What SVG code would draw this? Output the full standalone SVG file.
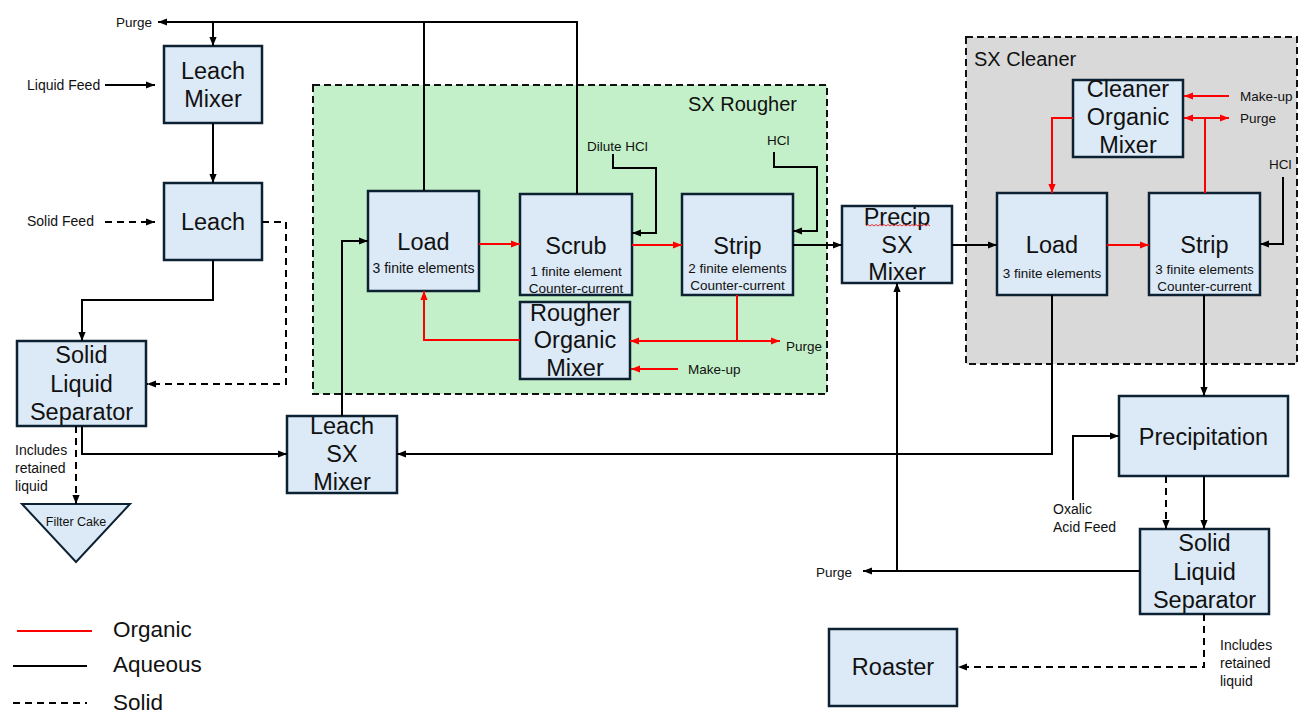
<svg xmlns="http://www.w3.org/2000/svg" width="1302" height="718" viewBox="0 0 1302 718">
<defs>
<marker id="ab" viewBox="0 0 10 8" refX="10" refY="4" markerWidth="9" markerHeight="7.5" markerUnits="userSpaceOnUse" orient="auto"><path d="M0,0 L10,4 L0,8 z" fill="#000"/></marker>
<marker id="ar" viewBox="0 0 10 8" refX="10" refY="4" markerWidth="9" markerHeight="7.5" markerUnits="userSpaceOnUse" orient="auto"><path d="M0,0 L10,4 L0,8 z" fill="#f00"/></marker>
</defs>
<style>
.box{fill:#dce9f6;stroke:#0c2233;stroke-width:2.5}
.t{font-family:"Liberation Sans",Arial,sans-serif;fill:#111;text-anchor:middle}
.big{font-size:23.5px}
.sm{font-size:13.5px}
.lbl{font-family:"Liberation Sans",Arial,sans-serif;font-size:13.5px;fill:#111}
.lbl2{font-family:"Liberation Sans",Arial,sans-serif;font-size:14px;fill:#111}
.aq{fill:none;stroke:#000;stroke-width:2}
.org{fill:none;stroke:#f00;stroke-width:2}
.sol{fill:none;stroke:#000;stroke-width:2;stroke-dasharray:7 5}
.grp{stroke:#111;stroke-width:2;stroke-dasharray:7 4}
.head{font-family:"Liberation Sans",Arial,sans-serif;font-size:20px;fill:#111}
</style>
<rect width="1302" height="718" fill="#fff"/>

<g id="sx-rougher">
<rect class="grp" x="313" y="85" width="514" height="309" fill="#c3f0c8"/>
<text class="head" x="688" y="111">SX Rougher</text>
</g>
<g id="sx-cleaner">
<rect class="grp" x="966" y="37" width="331" height="327" fill="#d9d9d9"/>
<text class="head" x="974" y="66">SX Cleaner</text>
</g>

<g id="leach-mixer"><rect class="box" x="164" y="46" width="98" height="77"/><text class="t big" x="213" y="79">Leach</text><text class="t big" x="213" y="107">Mixer</text></g>
<g id="leach"><rect class="box" x="164" y="183" width="98" height="77"/><text class="t big" x="213" y="230">Leach</text></g>
<g id="sls1"><rect class="box" x="17" y="341" width="129" height="85"/><text class="t big" x="81.5" y="363">Solid</text><text class="t big" x="81.5" y="392">Liquid</text><text class="t big" x="81.5" y="420">Separator</text></g>
<g id="filter-cake"><polygon points="22,504 130,504 76,562" fill="#dce9f6" stroke="#0c2233" stroke-width="2"/><text class="t" style="font-size:12.5px" x="76" y="526">Filter Cake</text></g>
<g id="leach-sx-mixer"><rect class="box" x="287" y="416" width="110" height="77"/><text class="t big" x="342" y="434">Leach</text><text class="t big" x="342" y="462">SX</text><text class="t big" x="342" y="490">Mixer</text></g>

<g id="r-load"><rect class="box" x="368" y="191" width="111" height="100"/><text class="t big" x="423.5" y="250">Load</text><text class="t" style="font-size:14px" x="423.5" y="273">3 finite elements</text></g>
<g id="r-scrub"><rect class="box" x="520" y="194" width="112" height="101"/><text class="t big" x="576" y="254">Scrub</text><text class="t sm" x="576" y="276">1 finite element</text><text class="t sm" x="576" y="293">Counter-current</text></g>
<g id="r-strip"><rect class="box" x="682" y="194" width="111" height="101"/><text class="t big" x="737.5" y="254">Strip</text><text class="t sm" x="737.5" y="273">2 finite elements</text><text class="t sm" x="737.5" y="290">Counter-current</text></g>
<g id="r-org-mixer"><rect class="box" x="520" y="302" width="110" height="77"/><text class="t big" x="575" y="321">Rougher</text><text class="t big" x="575" y="348">Organic</text><text class="t big" x="575" y="376">Mixer</text></g>

<g id="precip-sx-mixer"><rect class="box" x="842" y="206" width="110" height="77"/><text class="t big" x="897" y="225">Precip</text><path d="M866,226 l2,-1.5 l2,1.5 l2,-1.5 l2,1.5 l2,-1.5 l2,1.5 l2,-1.5 l2,1.5 l2,-1.5 l2,1.5 l2,-1.5 l2,1.5 l2,-1.5 l2,1.5 l2,-1.5 l2,1.5 l2,-1.5 l2,1.5 l2,-1.5 l2,1.5 l2,-1.5 l2,1.5 l2,-1.5 l2,1.5 l2,-1.5 l2,1.5 l2,-1.5 l2,1.5 l2,-1.5 l2,1.5 l2,-1.5 l2,1.5" fill="none" stroke="#e03030" stroke-width="1"/><text class="t big" x="897" y="253">SX</text><text class="t big" x="897" y="280">Mixer</text></g>

<g id="c-org-mixer"><rect class="box" x="1073" y="80" width="110" height="77"/><text class="t big" x="1128" y="97">Cleaner</text><text class="t big" x="1128" y="125">Organic</text><text class="t big" x="1128" y="153">Mixer</text></g>
<g id="c-load"><rect class="box" x="997" y="193" width="110" height="102"/><text class="t big" x="1052" y="253">Load</text><text class="t sm" x="1052" y="278">3 finite elements</text></g>
<g id="c-strip"><rect class="box" x="1149" y="193" width="111" height="102"/><text class="t big" x="1204.5" y="253">Strip</text><text class="t sm" x="1204.5" y="274">3 finite elements</text><text class="t sm" x="1204.5" y="291">Counter-current</text></g>

<g id="precipitation"><rect class="box" x="1119" y="396" width="169" height="80"/><text class="t big" x="1203.5" y="445">Precipitation</text></g>
<g id="sls2"><rect class="box" x="1140" y="529" width="129" height="85"/><text class="t big" x="1204.5" y="551">Solid</text><text class="t big" x="1204.5" y="580">Liquid</text><text class="t big" x="1204.5" y="608">Separator</text></g>
<g id="roaster"><rect class="box" x="829" y="629" width="128" height="77"/><text class="t big" x="893" y="675">Roaster</text></g>

<g id="connectors">
<path class="aq" d="M577,194 V22 H158" marker-end="url(#ab)"/>
<path class="aq" d="M424,191 V22"/>
<path class="aq" d="M213,22 V46" marker-end="url(#ab)"/>
<path class="aq" d="M105,85 H155" marker-end="url(#ab)"/>
<path class="aq" d="M213,123 V183" marker-end="url(#ab)"/>
<path class="aq" d="M213,260 V300 H82 V341" marker-end="url(#ab)"/>
<path class="aq" d="M82,426 V454 H287" marker-end="url(#ab)"/>
<path class="aq" d="M342,416 V241 H368" marker-end="url(#ab)"/>
<path class="aq" d="M1052,295 V454 H397" marker-end="url(#ab)"/>
<path class="aq" d="M613,154 V168 H656 V233 H632" marker-end="url(#ab)"/>
<path class="aq" d="M774,152 V167 H817 V231 H793" marker-end="url(#ab)"/>
<path class="aq" d="M793,245 H842" marker-end="url(#ab)"/>
<path class="aq" d="M952,245 H997" marker-end="url(#ab)"/>
<path class="aq" d="M1283,177 V244 H1260" marker-end="url(#ab)"/>
<path class="aq" d="M1204,295 V396" marker-end="url(#ab)"/>
<path class="aq" d="M1073,500 V436 H1119" marker-end="url(#ab)"/>
<path class="aq" d="M1204,476 V529" marker-end="url(#ab)"/>
<path class="aq" d="M1140,571 H863" marker-end="url(#ab)"/>
<path class="aq" d="M897,571 V283" marker-end="url(#ab)"/>

<path class="org" d="M479,244 H520" marker-end="url(#ar)"/>
<path class="org" d="M632,245 H682" marker-end="url(#ar)"/>
<path class="org" d="M737,295 V341 H630" marker-end="url(#ar)"/>
<path class="org" d="M737,341 H780" marker-end="url(#ar)"/>
<path class="org" d="M678,369 H631" marker-end="url(#ar)"/>
<path class="org" d="M520,340 H424 V291" marker-end="url(#ar)"/>
<path class="org" d="M1107,245 H1149" marker-end="url(#ar)"/>
<path class="org" d="M1229,96 H1184" marker-end="url(#ar)"/>
<path class="org" d="M1205,193 V118 H1184" marker-end="url(#ar)"/>
<path class="org" d="M1205,118 H1229" marker-end="url(#ar)"/>
<path class="org" d="M1073,118 H1052 V193" marker-end="url(#ar)"/>

<path class="sol" d="M105,222 H155" marker-end="url(#ab)"/>
<path class="sol" d="M262,222 H286 V384 H147" marker-end="url(#ab)"/>
<path class="sol" d="M76,426 V504" marker-end="url(#ab)"/>
<path class="sol" d="M1166,476 V529" marker-end="url(#ab)"/>
<path class="sol" d="M1204,614 V667 H958" marker-end="url(#ab)"/>
</g>

<g id="labels">
<text class="lbl" x="116" y="27">Purge</text>
<text class="lbl2" x="27" y="90">Liquid Feed</text>
<text class="lbl2" x="27" y="226">Solid Feed</text>
<text class="lbl2" x="15" y="455">Includes</text>
<text class="lbl2" x="15" y="473">retained</text>
<text class="lbl2" x="15" y="491">liquid</text>
<text class="lbl" x="587" y="151">Dilute HCl</text>
<text class="lbl" x="767" y="145">HCl</text>
<text class="lbl" x="786" y="351">Purge</text>
<text class="lbl" x="688" y="374">Make-up</text>
<text class="lbl" x="1240" y="101">Make-up</text>
<text class="lbl" x="1240" y="123">Purge</text>
<text class="lbl" x="1269" y="169">HCl</text>
<text class="lbl2" x="1053" y="514">Oxalic</text>
<text class="lbl2" x="1053" y="532">Acid Feed</text>
<text class="lbl" x="816" y="577">Purge</text>
<text class="lbl2" x="1220" y="650">Includes</text>
<text class="lbl2" x="1220" y="668">retained</text>
<text class="lbl2" x="1220" y="686">liquid</text>
</g>

<g id="legend">
<line x1="17" y1="631" x2="92" y2="631" stroke="#f00" stroke-width="2"/>
<line x1="13" y1="666" x2="87" y2="666" stroke="#000" stroke-width="2"/>
<line x1="13" y1="703" x2="87" y2="703" stroke="#000" stroke-width="2" stroke-dasharray="7 5"/>
<text class="head" style="font-size:22.5px" x="113" y="637">Organic</text>
<text class="head" style="font-size:22.5px" x="113" y="672">Aqueous</text>
<text class="head" style="font-size:22.5px" x="113" y="710">Solid</text>
</g>
</svg>
